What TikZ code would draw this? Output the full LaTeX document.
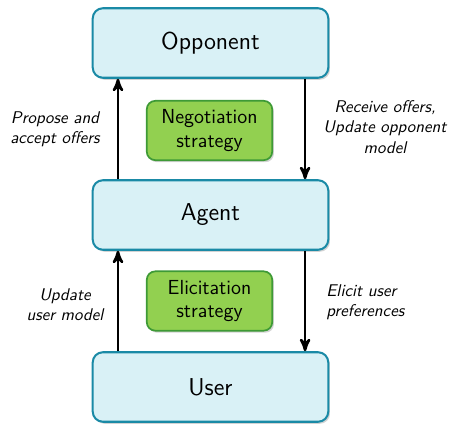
\documentclass[tikz,border=0pt]{standalone}
\usepackage{amssymb,amsmath}
\usetikzlibrary{arrows, shadows}

\definecolor{boxfill}{HTML}{D9F1F6}
\definecolor{boxline}{HTML}{1A8AA6}
\definecolor{stratfill}{HTML}{92D050}
\definecolor{stratline}{HTML}{3E9A36}

\tikzset{
  party/.style={draw=boxline, fill=boxfill, line width=1.2pt, rounded corners=6pt,
    minimum width=139pt, minimum height=41pt, font=\sffamily\Large,
    drop shadow={opacity=0.35, shadow xshift=1pt, shadow yshift=-1.2pt}},
  strategy/.style={draw=stratline, fill=stratfill, line width=1pt, rounded corners=5pt,
    minimum width=74pt, minimum height=35pt, align=center, font=\sffamily\large,
    inner sep=1pt,
    drop shadow={opacity=0.35, shadow xshift=1pt, shadow yshift=-1.2pt}},
  flow/.style={->, >=stealth', line width=1.5pt},
  note/.style={font=\sffamily\itshape, align=center, inner sep=0pt}
}

\begin{document}
\begin{tikzpicture}[x=0.59pt, y=-0.59pt]
        \useasboundingbox (0,0) rectangle (449,425);

        \node[party] (opponent) at (210.5, 43) {Opponent};
        \node[party] (agent) at (210.5, 215) {Agent};
        \node[party] (user) at (210.5, 387) {User};

        \node[strategy] (negotiation) at (209.5, 130.5) {Negotiation\\strategy};
        \node[strategy] (elicitation) at (209.5, 301) {Elicitation\\strategy};

        \node[note] (propose) at (55, 129) {Propose and\\accept offers};
        \node[note] (receive) at (385, 127) {Receive offers,\\Update opponent\\model};
        \node[note] (updateuser) at (65, 305) {Update\\user model};
        \node[note, align=left, anchor=west] (elicit) at (326, 302) {Elicit user\\preferences};

        \draw[flow] ([xshift=-54.6pt]agent.north) -- ([xshift=-54.6pt]opponent.south);
        \draw[flow] ([xshift=55.8pt]opponent.south) -- ([xshift=55.8pt]agent.north);
        \draw[flow] ([xshift=-54.6pt]user.north) -- ([xshift=-54.6pt]agent.south);
        \draw[flow] ([xshift=55.8pt]agent.south) -- ([xshift=55.8pt]user.north);
    \end{tikzpicture}
\end{document}
